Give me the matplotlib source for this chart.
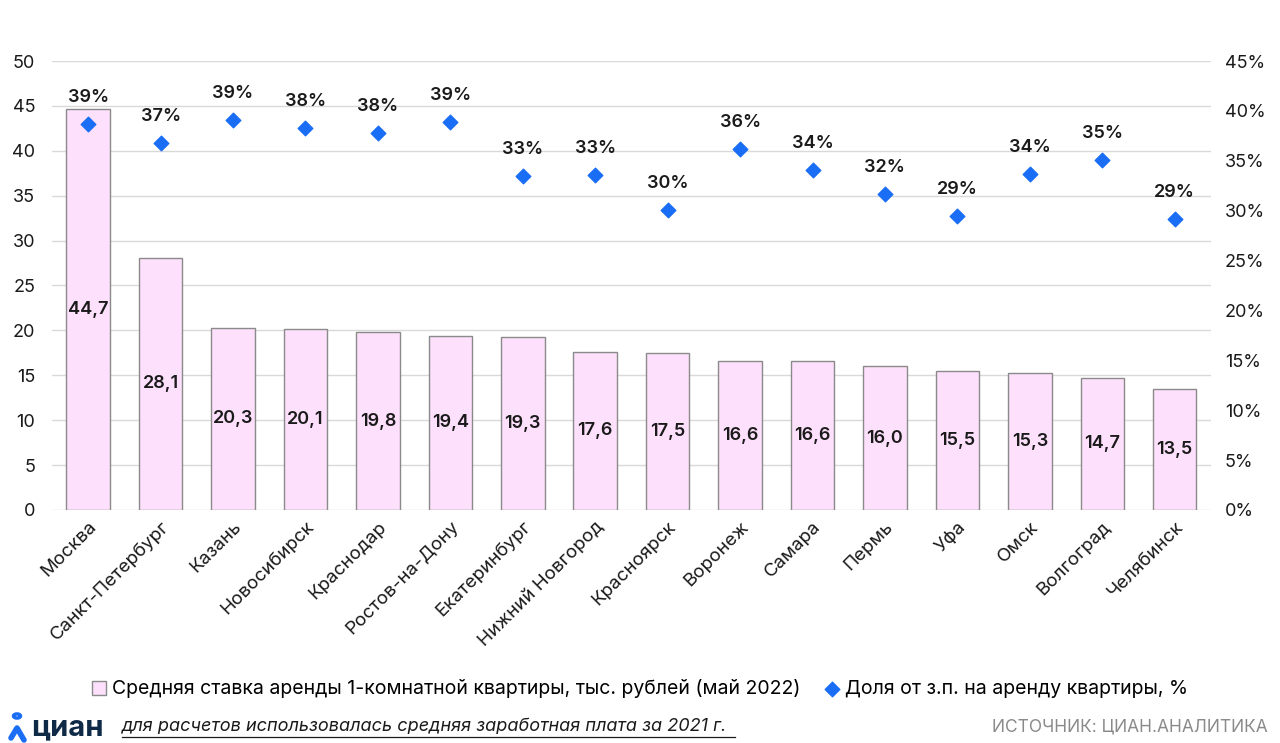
import numpy as np
import matplotlib
matplotlib.use('Agg')
import matplotlib.pyplot as plt
from matplotlib.lines import Line2D
from matplotlib.patches import Circle

plt.rcParams['font.family'] = ['Inter', 'DejaVu Sans']

# data
cities = ['Москва', 'Санкт-Петербург', 'Казань', 'Новосибирск', 'Краснодар',
          'Ростов-на-Дону', 'Екатеринбург', 'Нижний Новгород', 'Красноярск',
          'Воронеж', 'Самара', 'Пермь', 'Уфа', 'Омск', 'Волгоград', 'Челябинск']
rent = [44.7, 28.1, 20.3, 20.1, 19.8, 19.4, 19.3, 17.6, 17.5, 16.6, 16.6, 16.0,
        15.5, 15.3, 14.7, 13.5]
share = [38.7, 36.8, 39.1, 38.3, 37.8, 38.9, 33.5, 33.6, 30.1, 36.2, 34.1, 31.7,
         29.5, 33.7, 35.1, 29.2]
share_labels = ['39%', '37%', '39%', '38%', '38%', '39%', '33%', '33%', '30%',
                '36%', '34%', '32%', '29%', '34%', '35%', '29%']

fig = plt.figure(figsize=(12.8, 7.43), dpi=100)
ax = fig.add_axes([0.0406, 0.3136, 0.9054, 0.6043])
ax2 = ax.twinx()

x = np.arange(len(cities))
ax.bar(x, rent, width=0.6, color='#fde0fb', edgecolor='#8a8a8a',
       linewidth=1.0, zorder=2,
       label='Средняя ставка аренды 1-комнатной квартиры, тыс. рублей (май 2022)')
for xi, v in zip(x, rent):
    ax.text(xi, v / 2, f'{v:.1f}'.replace('.', ','), ha='center', va='center',
            fontsize=13, fontweight='semibold', color='#1a1a1a', zorder=3)

ax2.scatter(x, share, marker='D', s=55, color='#1a6ef5', zorder=4,
            label='Доля от з.п. на аренду квартиры, %')
for xi, v, lab in zip(x, share, share_labels):
    ax2.text(xi, v + 1.75, lab, ha='center', va='bottom', fontsize=13,
             fontweight='semibold', color='#1a1a1a')

ax.set_xlim(-0.5, len(cities) - 0.5)
ax.set_ylim(0, 50)
ax.set_yticks(np.arange(0, 51, 5))
ax2.set_ylim(0, 45)
ax2.set_yticks(np.arange(0, 46, 5))
ax2.set_yticklabels([f'{t}%' for t in range(0, 46, 5)])

ax.grid(axis='y', color='#d9d9d9', linewidth=1.0, zorder=0)
ax.set_axisbelow(True)
for a in (ax, ax2):
    for s in a.spines.values():
        s.set_visible(False)
    a.tick_params(length=0, labelsize=13, colors='#1a1a1a')
ax.tick_params(axis='y', pad=12)
ax2.tick_params(axis='y', pad=10)

ax.set_xticks(x)
ax.set_xticklabels(cities, rotation=45, ha='right', rotation_mode='anchor',
                   fontsize=13.5)
ax.tick_params(axis='x', pad=6)

h1, l1 = ax.get_legend_handles_labels()
h2, l2 = ax2.get_legend_handles_labels()
fig.legend(h1 + h2, l1 + l2, loc='center', bbox_to_anchor=(0.5, 1 - 689 / 743),
           ncol=2, frameon=False, fontsize=14, handlelength=0.7,
           handleheight=0.7, handletextpad=0.3, columnspacing=1.3)

# footer: logo
W, H = 1280, 743
blue = '#1a6ef5'
fig.add_artist(Circle((17 / W, 1 - 716 / H), 3.5 / W, transform=fig.transFigure,
                      facecolor='none', edgecolor=blue, linewidth=2.5))
fig.add_artist(Line2D([11 / W, 17 / W, 24 / W], [1 - 738 / H, 1 - 728 / H, 1 - 740 / H],
                      color=blue, linewidth=4, solid_capstyle='round',
                      solid_joinstyle='round'))
fig.text(31 / W, 1 - 728 / H, 'циан', fontsize=21, color='#0e2a47',
         fontweight='bold', va='center')
fig.text(122 / W, 1 - 727 / H,
         'для расчетов использовалась средняя заработная плата за 2021 г.',
         fontsize=13, style='italic', color='#1a1a1a', va='center')
fig.add_artist(Line2D([122 / W, 735 / W], [1 - 737 / H] * 2,
                      color='#1a1a1a', linewidth=0.9))
fig.text(1268 / W, 1 - 727 / H, 'ИСТОЧНИК: ЦИАН.АНАЛИТИКА', fontsize=12.5,
         color='#8a8a8a', ha='right', va='center')

plt.savefig('out.png', dpi=100, facecolor='white')
